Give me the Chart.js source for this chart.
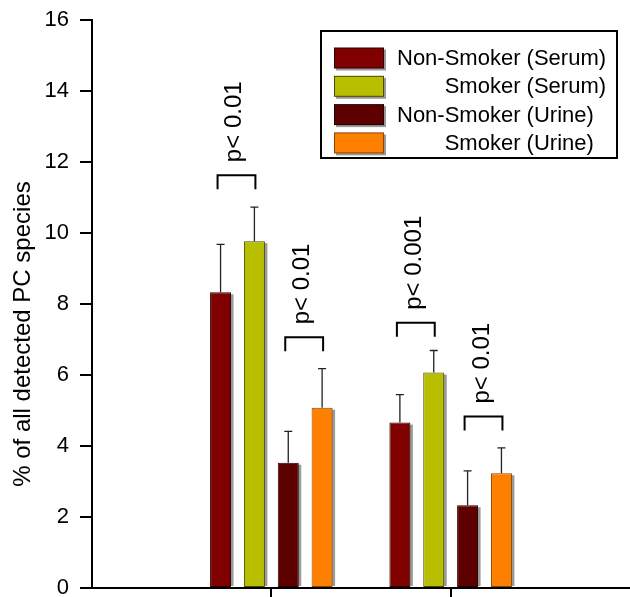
<!DOCTYPE html>
<html><head><meta charset="utf-8">
<script src="https://cdn.jsdelivr.net/npm/chart.js@4.4.1/dist/chart.umd.min.js"></script>
<style>html,body{margin:0;padding:0;background:#fff;}canvas{display:block;}</style>
</head><body>
<canvas id="c" width="630" height="597"></canvas>
<script>
// ---- data ----
const categoryPositions = [1, 2];
const seriesNames = ['Non-Smoker (Serum)', 'Smoker (Serum)', 'Non-Smoker (Urine)', 'Smoker (Urine)'];
const nonSmokerSerum = [8.33, 4.66];
const smokerSerum = [9.77, 6.07];
const nonSmokerUrine = [3.53, 2.33];
const smokerUrine = [5.08, 3.23];
const nonSmokerSerumErr = [1.35, 0.79];
const smokerSerumErr = [0.96, 0.62];
const nonSmokerUrineErr = [0.88, 0.97];
const smokerUrineErr = [1.10, 0.72];
const yTicks = [0, 2, 4, 6, 8, 10, 12, 14, 16];
const yTitle = '% of all detected PC species';
const pLabels = ['p< 0.01', 'p< 0.01', 'p< 0.001', 'p< 0.01'];
const pGroup = [0, 0, 1, 1];
const pFrom = [0, 2, 0, 2];
const pTo = [1, 3, 1, 3];
const pLevel = [11.63, 7.06, 7.47, 4.83];

// ---- styles ----
const FONT = "'Liberation Sans', Arial, Helvetica, sans-serif";
const fills = ['#800000', '#B8BE00', '#5E0000', '#FF8000'];
const borders = ['#2a0000', '#4a4a00', '#200000', '#8a4500'];
const seriesValues = [nonSmokerSerum, smokerSerum, nonSmokerUrine, smokerUrine];
const seriesErrors = [nonSmokerSerumErr, smokerSerumErr, nonSmokerUrineErr, smokerUrineErr];

const datasets = seriesNames.map((name, i) => ({
  label: name,
  data: categoryPositions.map((x, j) => ({x: x, y: seriesValues[i][j]})),
  backgroundColor: fills[i],
  borderColor: borders[i],
  borderWidth: 1,
  borderSkipped: false,
  categoryPercentage: 0.755,
  barPercentage: 0.62
}));

const shadowPlugin = {
  id: 'shadows',
  beforeDatasetsDraw(chart) {
    const ctx = chart.ctx;
    ctx.save();
    ctx.fillStyle = '#9a9a9a';
    chart.data.datasets.forEach((ds, i) => {
      chart.getDatasetMeta(i).data.forEach(el => {
        const p = el.getProps(['x', 'y', 'base', 'width'], true);
        ctx.fillRect(p.x - p.width / 2 + 2.5, p.y + 2, p.width, p.base - p.y - 3);
      });
    });
    ctx.restore();
  }
};

const errorPlugin = {
  id: 'errors',
  afterDatasetsDraw(chart) {
    const ctx = chart.ctx;
    const ys = chart.scales.y;
    ctx.save();
    ctx.strokeStyle = '#222';
    ctx.lineWidth = 1.3;
    chart.data.datasets.forEach((ds, i) => {
      chart.getDatasetMeta(i).data.forEach((el, j) => {
        const p = el.getProps(['x', 'y'], true);
        const top = ys.getPixelForValue(seriesValues[i][j] + seriesErrors[i][j]);
        ctx.beginPath();
        ctx.moveTo(p.x, p.y);
        ctx.lineTo(p.x, top);
        ctx.moveTo(p.x - 4, top);
        ctx.lineTo(p.x + 4, top);
        ctx.stroke();
      });
    });
    // significance brackets
    ctx.strokeStyle = '#000';
    ctx.lineWidth = 2;
    ctx.fillStyle = '#000';
    ctx.font = '24px ' + FONT;
    ctx.textAlign = 'left';
    ctx.textBaseline = 'alphabetic';
    pLabels.forEach((txt, k) => {
      const a = chart.getDatasetMeta(pFrom[k]).data[pGroup[k]].getProps(['x'], true).x;
      const b = chart.getDatasetMeta(pTo[k]).data[pGroup[k]].getProps(['x'], true).x;
      const xL = a - 3, xR = b + 1;
      const yT = ys.getPixelForValue(pLevel[k]);
      ctx.beginPath();
      ctx.moveTo(xL, yT + 14);
      ctx.lineTo(xL, yT);
      ctx.lineTo(xR, yT);
      ctx.lineTo(xR, yT + 14);
      ctx.stroke();
      ctx.save();
      ctx.translate((xL + xR) / 2 + 5, yT - 13);
      ctx.rotate(-Math.PI / 2);
      ctx.fillText(txt, 0, 0);
      ctx.restore();
    });
    // y-axis title
    ctx.font = '24px ' + FONT;
    ctx.textAlign = 'center';
    ctx.textBaseline = 'middle';
    ctx.save();
    ctx.translate(23, (chart.chartArea.top + chart.chartArea.bottom) / 2 + 30);
    ctx.rotate(-Math.PI / 2);
    ctx.fillText(yTitle, 0, 0);
    ctx.restore();
    ctx.restore();
  }
};

const legendPlugin = {
  id: 'boxLegend',
  afterDraw(chart) {
    const ctx = chart.ctx;
    const ca = chart.chartArea;
    const left = ca.right - 309, top = ca.top + 11, w = 296, h = 127;
    ctx.save();
    ctx.strokeStyle = '#000';
    ctx.lineWidth = 2;
    ctx.strokeRect(left, top, w, h);
    ctx.font = '22px ' + FONT;
    ctx.textBaseline = 'middle';
    ctx.textAlign = 'left';
    const indent = ctx.measureText('Non-').width;
    chart.data.datasets.forEach((ds, i) => {
      const cy = top + 27 + i * 28.3;
      const sx = left + 13, sy = cy - 10.5;
      ctx.fillStyle = '#9a9a9a';
      ctx.fillRect(sx + 2, sy + 2, 50, 21);
      ctx.fillStyle = ds.borderColor;
      ctx.fillRect(sx, sy, 50, 21);
      ctx.fillStyle = ds.backgroundColor;
      ctx.fillRect(sx + 1, sy + 1, 48, 19);
      ctx.fillStyle = '#000';
      const tx = left + 76 + (ds.label.startsWith('Non-') ? 0 : indent);
      ctx.fillText(ds.label, tx, cy + 1);
    });
    ctx.restore();
  }
};

new Chart(document.getElementById('c'), {
  type: 'bar',
  data: {datasets: datasets},
  options: {
    responsive: false,
    animation: false,
    devicePixelRatio: 1,
    layout: {padding: {top: 20, right: -2, bottom: 0, left: 0}},
    plugins: {legend: {display: false}, tooltip: {enabled: false}},
    scales: {
      x: {
        type: 'linear', min: 0, max: 3, offset: false,
        afterBuildTicks: s => { s.ticks = categoryPositions.map(v => ({value: v})); },
        afterFit: s => { s.height = 9; s.paddingLeft = 0; s.paddingRight = 0; },
        grid: {offset: false, drawOnChartArea: false, drawTicks: true, tickLength: 9, color: '#000', lineWidth: 2},
        border: {display: true, color: '#000', width: 2},
        ticks: {display: false}
      },
      y: {
        min: 0, max: 16,
        afterBuildTicks: s => { s.ticks = yTicks.map(v => ({value: v})); },
        afterFit: s => { s.width = 92; s.paddingTop = 0; s.paddingBottom = 0; },
        grid: {drawOnChartArea: false, drawTicks: true, tickLength: 12, color: '#000', lineWidth: 2},
        border: {display: true, color: '#000', width: 2},
        ticks: {color: '#000', padding: 11, font: {size: 22, family: FONT}},
        title: {display: false}
      }
    }
  },
  plugins: [shadowPlugin, errorPlugin, legendPlugin]
});
</script>
</body></html>
